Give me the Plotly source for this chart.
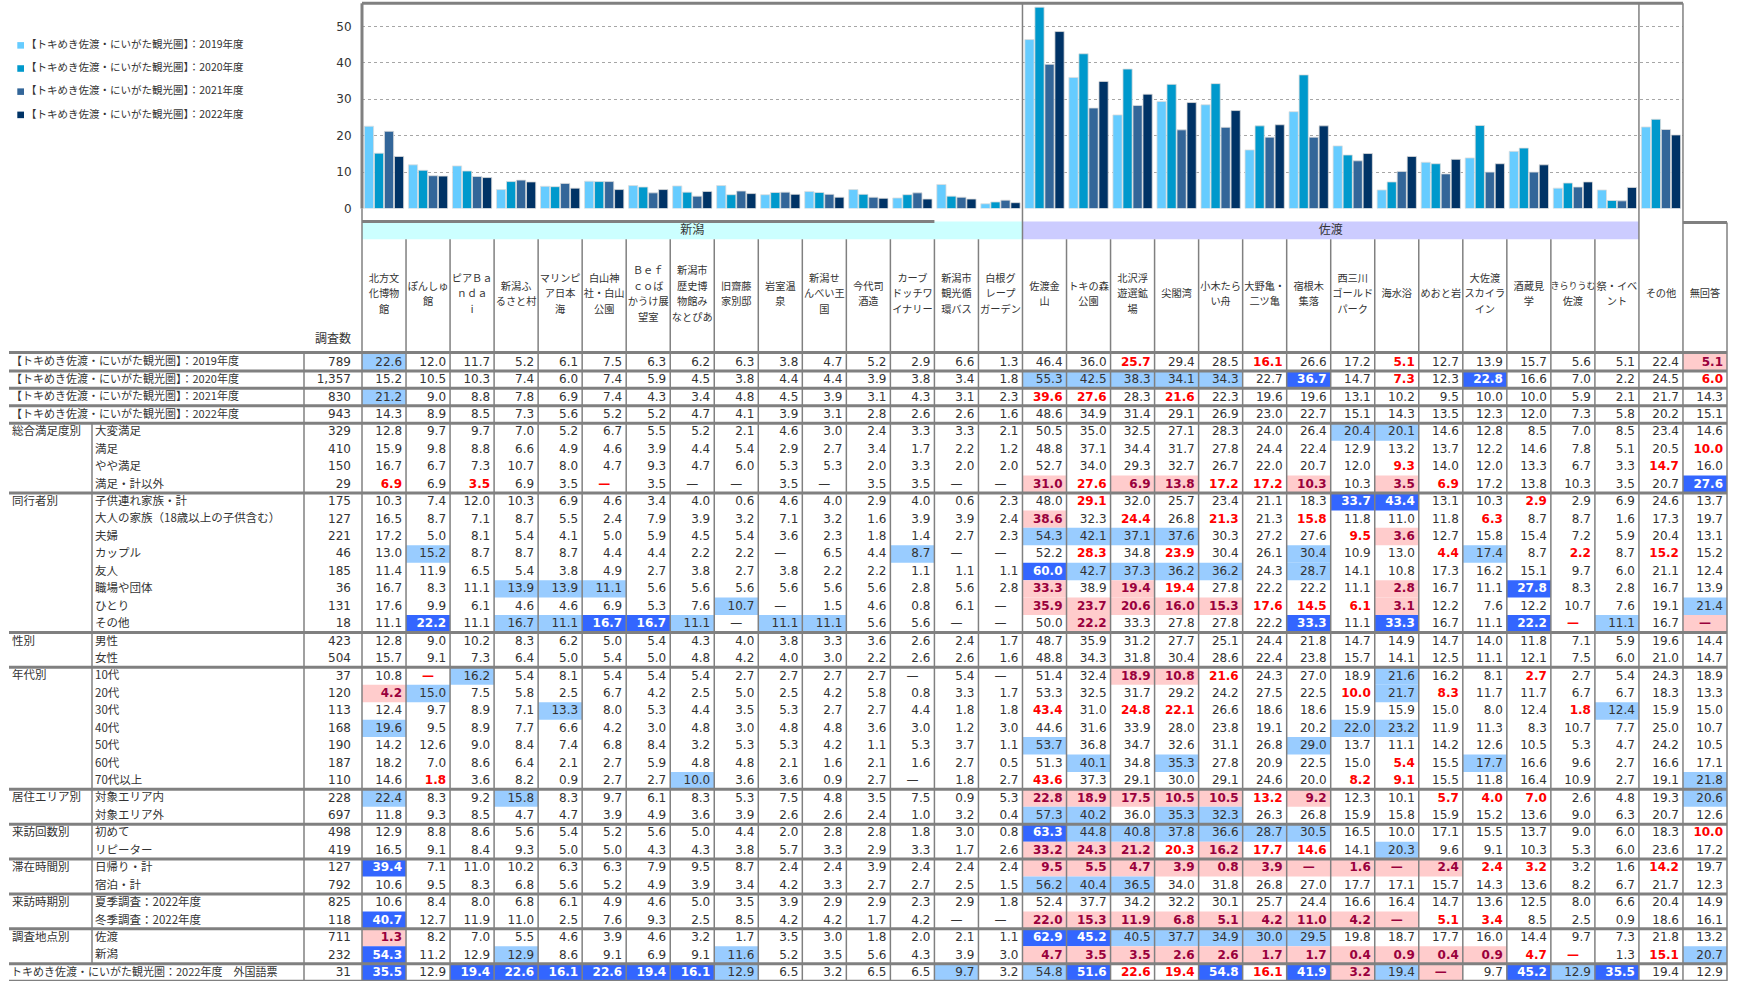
import plotly.graph_objects as go

W, H = 1738, 988

# ---------------- data ----------------
columns = ["北方文/化博物/館", "ぽんしゅ/館", "ピアＢａ/ｎｄａ/ｉ", "新潟ふ/るさと村", "マリンピ/ア日本/海",
           "白山神/社・白山/公園", "Ｂｅｆ/ｃｏば/かうけ展/望室", "新潟市/歴史博/物館み/なとぴあ", "旧齋藤/家別邸",
           "岩室温/泉", "新潟せ/んべい王/国", "今代司/酒造", "カーブ/ドッチワ/イナリー", "新潟市/観光循/環バス",
           "白根グ/レープ/ガーデン",
           "佐渡金/山", "トキの森/公園", "北沢浮/遊選鉱/場", "尖閣湾", "小木たら/い舟", "大野亀・/二ツ亀",
           "宿根木/集落", "西三川/ゴールド/パーク", "海水浴", "めおと岩", "大佐渡/スカイラ/イン", "酒蔵見/学",
           "きらりうむ/佐渡", "祭・イベ/ント", "その他", "無回答"]
bar_count = 30  # 無回答 has no bar
area_names = ["新潟", "佐渡"]
area_cols = [(0, 15), (15, 29)]
area_colors = ["#CCFFFF", "#CCCCFF"]

series_names = ["【トキめき佐渡・にいがた観光圏】：2019年度", "【トキめき佐渡・にいがた観光圏】：2020年度",
                "【トキめき佐渡・にいがた観光圏】：2021年度", "【トキめき佐渡・にいがた観光圏】：2022年度"]
series_colors = ["#66CCFF", "#0099CC", "#336699", "#003366"]
n_header = "調査数"

X = None  # "—"

year_n = [789, 1357, 830, 943]
year_vals = [
    [22.6, 12.0, 11.7, 5.2, 6.1, 7.5, 6.3, 6.2, 6.3, 3.8, 4.7, 5.2, 2.9, 6.6, 1.3,
     46.4, 36.0, 25.7, 29.4, 28.5, 16.1, 26.6, 17.2, 5.1, 12.7, 13.9, 15.7, 5.6, 5.1, 22.4, 5.1],
    [15.2, 10.5, 10.3, 7.4, 6.0, 7.4, 5.9, 4.5, 3.8, 4.4, 4.4, 3.9, 3.8, 3.4, 1.8,
     55.3, 42.5, 38.3, 34.1, 34.3, 22.7, 36.7, 14.7, 7.3, 12.3, 22.8, 16.6, 7.0, 2.2, 24.5, 6.0],
    [21.2, 9.0, 8.8, 7.8, 6.9, 7.4, 4.3, 3.4, 4.8, 4.5, 3.9, 3.1, 4.3, 3.1, 2.3,
     39.6, 27.6, 28.3, 21.6, 22.3, 19.6, 19.6, 13.1, 10.2, 9.5, 10.0, 10.0, 5.9, 2.1, 21.7, 14.3],
    [14.3, 8.9, 8.5, 7.3, 5.6, 5.2, 5.2, 4.7, 4.1, 3.9, 3.1, 2.8, 2.6, 2.6, 1.6,
     48.6, 34.9, 31.4, 29.1, 26.9, 23.0, 22.7, 15.1, 14.3, 13.5, 12.3, 12.0, 7.3, 5.8, 20.2, 15.1],
]
year_style = ["b.............. ..r..r..r..... .p",
              "............... bbbbb.B.r.B... .r",
              "b.............. rr.r.......... ..",
              "............... .............. .."]

sat_group = "総合満足度別"
sat_labels = ["大変満足", "満足", "やや満足", "満足・計以外"]
sat_n = [329, 410, 150, 29]
sat_vals = [
    [12.8, 9.7, 9.7, 7.0, 5.2, 6.7, 5.5, 5.2, 2.1, 4.6, 3.0, 2.4, 3.3, 3.3, 2.1,
     50.5, 35.0, 32.5, 27.1, 28.3, 24.0, 26.4, 20.4, 20.1, 14.6, 12.8, 8.5, 7.0, 8.5, 23.4, 14.6],
    [15.9, 9.8, 8.8, 6.6, 4.9, 4.6, 3.9, 4.4, 5.4, 2.9, 2.7, 3.4, 1.7, 2.2, 1.2,
     48.8, 37.1, 34.4, 31.7, 27.8, 24.4, 22.4, 12.9, 13.2, 13.7, 12.2, 14.6, 7.8, 5.1, 20.5, 10.0],
    [16.7, 6.7, 7.3, 10.7, 8.0, 4.7, 9.3, 4.7, 6.0, 5.3, 5.3, 2.0, 3.3, 2.0, 2.0,
     52.7, 34.0, 29.3, 32.7, 26.7, 22.0, 20.7, 12.0, 9.3, 14.0, 12.0, 13.3, 6.7, 3.3, 14.7, 16.0],
    [6.9, 6.9, 3.5, 6.9, 3.5, X, 3.5, X, X, 3.5, X, 3.5, 3.5, X, X,
     31.0, 27.6, 6.9, 13.8, 17.2, 17.2, 10.3, 10.3, 3.5, 6.9, 17.2, 13.8, 10.3, 3.5, 20.7, 27.6],
]
sat_style = ["............... .......bb..... ..",
             "............... .............. .r",
             "............... ........r..... r.",
             "r.r..r......... prpprrp.pr.... .B"]

com_group = "同行者別"
com_labels = ["子供連れ家族・計", "大人の家族（18歳以上の子供含む）", "夫婦", "カップル", "友人", "職場や団体", "ひとり", "その他"]
com_n = [175, 127, 221, 46, 185, 36, 131, 18]
com_vals = [
    [10.3, 7.4, 12.0, 10.3, 6.9, 4.6, 3.4, 4.0, 0.6, 4.6, 4.0, 2.9, 4.0, 0.6, 2.3,
     48.0, 29.1, 32.0, 25.7, 23.4, 21.1, 18.3, 33.7, 43.4, 13.1, 10.3, 2.9, 2.9, 6.9, 24.6, 13.7],
    [16.5, 8.7, 7.1, 8.7, 5.5, 2.4, 7.9, 3.9, 3.2, 7.1, 3.2, 1.6, 3.9, 3.9, 2.4,
     38.6, 32.3, 24.4, 26.8, 21.3, 21.3, 15.8, 11.8, 11.0, 11.8, 6.3, 8.7, 8.7, 1.6, 17.3, 19.7],
    [17.2, 5.0, 8.1, 5.4, 4.1, 5.0, 5.9, 4.5, 5.4, 3.6, 2.3, 1.8, 1.4, 2.7, 2.3,
     54.3, 42.1, 37.1, 37.6, 30.3, 27.2, 27.6, 9.5, 3.6, 12.7, 15.8, 15.4, 7.2, 5.9, 20.4, 13.1],
    [13.0, 15.2, 8.7, 8.7, 8.7, 4.4, 4.4, 2.2, 2.2, X, 6.5, 4.4, 8.7, X, X,
     52.2, 28.3, 34.8, 23.9, 30.4, 26.1, 30.4, 10.9, 13.0, 4.4, 17.4, 8.7, 2.2, 8.7, 15.2, 15.2],
    [11.4, 11.9, 6.5, 5.4, 3.8, 4.9, 2.7, 3.8, 2.7, 3.8, 2.2, 2.2, 1.1, 1.1, 1.1,
     60.0, 42.7, 37.3, 36.2, 36.2, 24.3, 28.7, 14.1, 10.8, 17.3, 16.2, 15.1, 9.7, 6.0, 21.1, 12.4],
    [16.7, 8.3, 11.1, 13.9, 13.9, 11.1, 5.6, 5.6, 5.6, 5.6, 5.6, 5.6, 2.8, 5.6, 2.8,
     33.3, 38.9, 19.4, 19.4, 27.8, 22.2, 22.2, 11.1, 2.8, 16.7, 11.1, 27.8, 8.3, 2.8, 16.7, 13.9],
    [17.6, 9.9, 6.1, 4.6, 4.6, 6.9, 5.3, 7.6, 10.7, X, 1.5, 4.6, 0.8, 6.1, X,
     35.9, 23.7, 20.6, 16.0, 15.3, 17.6, 14.5, 6.1, 3.1, 12.2, 7.6, 12.2, 10.7, 7.6, 19.1, 21.4],
    [11.1, 22.2, 11.1, 16.7, 11.1, 16.7, 16.7, 11.1, X, 11.1, 11.1, 5.6, 5.6, X, X,
     50.0, 22.2, 33.3, 27.8, 27.8, 22.2, 33.3, 11.1, 33.3, 16.7, 11.1, 22.2, X, 11.1, 16.7, X],
]
com_style = ["............... .r.....BB..r.. ..",
             "............... p.r.r.r...r... ..",
             "............... bbbb...rp..... ..",
             ".b..........b.. .r.r..b..rb.r. r.",
             "............... Bbbbb.b....... ..",
             "...bbb......... p.pr....p..B.. ..",
             "........b...... ppppprrrp..... .b",
             ".B.bbBBb.bb.... .p....B.B..Brb .p"]

sex_group = "性別"
sex_labels = ["男性", "女性"]
sex_n = [423, 504]
sex_vals = [
    [12.8, 9.0, 10.2, 8.3, 6.2, 5.0, 5.4, 4.3, 4.0, 3.8, 3.3, 3.6, 2.6, 2.4, 1.7,
     48.7, 35.9, 31.2, 27.7, 25.1, 24.4, 21.8, 14.7, 14.9, 14.7, 14.0, 11.8, 7.1, 5.9, 19.6, 14.4],
    [15.7, 9.1, 7.3, 6.4, 5.0, 5.4, 5.0, 4.8, 4.2, 4.0, 3.0, 2.2, 2.6, 2.6, 1.6,
     48.8, 34.3, 31.8, 30.4, 28.6, 22.4, 23.8, 15.7, 14.1, 12.5, 11.1, 12.1, 7.5, 6.0, 21.0, 14.7],
]
sex_style = ["............... .............. ..",
             "............... .............. .."]

age_group = "年代別"
age_labels = ["10代", "20代", "30代", "40代", "50代", "60代", "70代以上"]
age_n = [37, 120, 113, 168, 190, 187, 110]
age_vals = [
    [10.8, X, 16.2, 5.4, 8.1, 5.4, 5.4, 5.4, 2.7, 2.7, 2.7, 2.7, X, 5.4, X,
     51.4, 32.4, 18.9, 10.8, 21.6, 24.3, 27.0, 18.9, 21.6, 16.2, 8.1, 2.7, 2.7, 5.4, 24.3, 18.9],
    [4.2, 15.0, 7.5, 5.8, 2.5, 6.7, 4.2, 2.5, 5.0, 2.5, 4.2, 5.8, 0.8, 3.3, 1.7,
     53.3, 32.5, 31.7, 29.2, 24.2, 27.5, 22.5, 10.0, 21.7, 8.3, 11.7, 11.7, 6.7, 6.7, 18.3, 13.3],
    [12.4, 9.7, 8.9, 7.1, 13.3, 8.0, 5.3, 4.4, 3.5, 5.3, 2.7, 2.7, 4.4, 1.8, 1.8,
     43.4, 31.0, 24.8, 22.1, 26.6, 18.6, 18.6, 15.9, 15.9, 15.0, 8.0, 12.4, 1.8, 12.4, 15.9, 15.0],
    [19.6, 9.5, 8.9, 7.7, 6.6, 4.2, 3.0, 4.8, 3.0, 4.8, 4.8, 3.6, 3.0, 1.2, 3.0,
     44.6, 31.6, 33.9, 28.0, 23.8, 19.1, 20.2, 22.0, 23.2, 11.9, 11.3, 8.3, 10.7, 7.7, 25.0, 10.7],
    [14.2, 12.6, 9.0, 8.4, 7.4, 6.8, 8.4, 3.2, 5.3, 5.3, 4.2, 1.1, 5.3, 3.7, 1.1,
     53.7, 36.8, 34.7, 32.6, 31.1, 26.8, 29.0, 13.7, 11.1, 14.2, 12.6, 10.5, 5.3, 4.7, 24.2, 10.5],
    [18.2, 7.0, 8.6, 6.4, 2.1, 2.7, 5.9, 4.8, 4.8, 2.1, 1.6, 2.1, 1.6, 2.7, 0.5,
     51.3, 40.1, 34.8, 35.3, 27.8, 20.9, 22.5, 15.0, 5.4, 15.5, 17.7, 16.6, 9.6, 2.7, 16.6, 17.1],
    [14.6, 1.8, 3.6, 8.2, 0.9, 2.7, 2.7, 10.0, 3.6, 3.6, 0.9, 2.7, X, 1.8, 2.7,
     43.6, 37.3, 29.1, 30.0, 29.1, 24.6, 20.0, 8.2, 9.1, 15.5, 11.8, 16.4, 10.9, 2.7, 19.1, 21.8],
]
age_style = [".rb............ ..ppr...b..r.. ..",
             "pb............. .......rbr.... ..",
             "....b.......... r.rr........rb ..",
             "b.............. .......bb..... ..",
             "............... b.....b....... ..",
             "............... .b.b....r.b... ..",
             ".r.....b....... r......rr..... .b"]

res_group = "居住エリア別"
res_labels = ["対象エリア内", "対象エリア外"]
res_n = [228, 697]
res_vals = [
    [22.4, 8.3, 9.2, 15.8, 8.3, 9.7, 6.1, 8.3, 5.3, 7.5, 4.8, 3.5, 7.5, 0.9, 5.3,
     22.8, 18.9, 17.5, 10.5, 10.5, 13.2, 9.2, 12.3, 10.1, 5.7, 4.0, 7.0, 2.6, 4.8, 19.3, 20.6],
    [11.8, 9.3, 8.5, 4.7, 4.7, 3.9, 4.9, 3.6, 3.9, 2.6, 2.6, 2.4, 1.0, 3.2, 0.4,
     57.3, 40.2, 36.0, 35.3, 32.3, 26.3, 26.8, 15.9, 15.8, 15.9, 15.2, 13.6, 9.0, 6.3, 20.7, 12.6],
]
res_style = ["b..b........... ppppprp..rrr.. .b",
             "............... bb.bb......... .."]

vis_group = "来訪回数別"
vis_labels = ["初めて", "リピーター"]
vis_n = [498, 419]
vis_vals = [
    [12.9, 8.8, 8.6, 5.6, 5.4, 5.2, 5.6, 5.0, 4.4, 2.0, 2.8, 2.8, 1.8, 3.0, 0.8,
     63.3, 44.8, 40.8, 37.8, 36.6, 28.7, 30.5, 16.5, 10.0, 17.1, 15.5, 13.7, 9.0, 6.0, 18.3, 10.0],
    [16.5, 9.1, 8.4, 9.3, 5.0, 5.0, 4.3, 4.3, 3.8, 5.7, 3.3, 2.9, 3.3, 1.7, 2.6,
     33.2, 24.3, 21.2, 20.3, 16.2, 17.7, 14.6, 14.1, 20.3, 9.6, 9.1, 10.3, 5.3, 6.0, 23.6, 17.2],
]
vis_style = ["............... Bbbbbbb....... .r",
             "............... ppprprr.b..... .."]

stay_group = "滞在時間別"
stay_labels = ["日帰り・計", "宿泊・計"]
stay_n = [127, 792]
stay_vals = [
    [39.4, 7.1, 11.0, 10.2, 6.3, 6.3, 7.9, 9.5, 8.7, 2.4, 2.4, 3.9, 2.4, 2.4, 2.4,
     9.5, 5.5, 4.7, 3.9, 0.8, 3.9, X, 1.6, X, 2.4, 2.4, 3.2, 3.2, 1.6, 14.2, 19.7],
    [10.6, 9.5, 8.3, 6.8, 5.6, 5.2, 4.9, 3.9, 3.4, 4.2, 3.3, 2.7, 2.7, 2.5, 1.5,
     56.2, 40.4, 36.5, 34.0, 31.8, 26.8, 27.0, 17.7, 17.1, 15.7, 14.3, 13.6, 8.2, 6.7, 21.7, 12.3],
]
stay_style = ["B.............. pppppppppprr.. r.",
              "............... bbb........... .."]

sea_group = "来訪時期別"
sea_labels = ["夏季調査：2022年度", "冬季調査：2022年度"]
sea_n = [825, 118]
sea_vals = [
    [10.6, 8.4, 8.0, 6.8, 6.1, 4.9, 4.6, 5.0, 3.5, 3.9, 2.9, 2.9, 2.3, 2.9, 1.8,
     52.4, 37.7, 34.2, 32.2, 30.1, 25.7, 24.4, 16.6, 16.4, 14.7, 13.6, 12.5, 8.0, 6.6, 20.4, 14.9],
    [40.7, 12.7, 11.9, 11.0, 2.5, 7.6, 9.3, 2.5, 8.5, 4.2, 4.2, 1.7, 4.2, X, X,
     22.0, 15.3, 11.9, 6.8, 5.1, 4.2, 11.0, 4.2, X, 5.1, 3.4, 8.5, 2.5, 0.9, 18.6, 16.1],
]
sea_style = ["............... .............. ..",
             "B.............. ppppppppprr... .."]

loc_group = "調査地点別"
loc_labels = ["佐渡", "新潟"]
loc_n = [711, 232]
loc_vals = [
    [1.3, 8.2, 7.0, 5.5, 4.6, 3.9, 4.6, 3.2, 1.7, 3.5, 3.0, 1.8, 2.0, 2.1, 1.1,
     62.9, 45.2, 40.5, 37.7, 34.9, 30.0, 29.5, 19.8, 18.7, 17.7, 16.0, 14.4, 9.7, 7.3, 21.8, 13.2],
    [54.3, 11.2, 12.9, 12.9, 8.6, 9.1, 6.9, 9.1, 11.6, 5.2, 3.5, 5.6, 4.3, 3.9, 3.0,
     4.7, 3.5, 3.5, 2.6, 2.6, 1.7, 1.7, 0.4, 0.9, 0.4, 0.9, 4.7, X, 1.3, 15.1, 20.7],
]
loc_style = ["p.............. BBbbbbb....... ..",
             "B..b....b...... ppppppppppprr. rb"]

for_labels = ["トキめき佐渡・にいがた観光圏：2022年度　外国語票"]
for_n = [31]
for_vals = [
    [35.5, 12.9, 19.4, 22.6, 16.1, 22.6, 19.4, 16.1, 12.9, 6.5, 3.2, 6.5, 6.5, 9.7, 3.2,
     54.8, 51.6, 22.6, 19.4, 54.8, 16.1, 41.9, 3.2, 19.4, X, 9.7, 45.2, 12.9, 35.5, 19.4, 12.9],
]
for_style = ["B.BBBBBBb....b. bBrrBrBpbp.BbB .."]

# sections: (group label or None, labels, n, values, styles)
sections = [(None, series_names, year_n, year_vals, year_style),
            (sat_group, sat_labels, sat_n, sat_vals, sat_style),
            (com_group, com_labels, com_n, com_vals, com_style),
            (sex_group, sex_labels, sex_n, sex_vals, sex_style),
            (age_group, age_labels, age_n, age_vals, age_style),
            (res_group, res_labels, res_n, res_vals, res_style),
            (vis_group, vis_labels, vis_n, vis_vals, vis_style),
            (stay_group, stay_labels, stay_n, stay_vals, stay_style),
            (sea_group, sea_labels, sea_n, sea_vals, sea_style),
            (loc_group, loc_labels, loc_n, loc_vals, loc_style),
            (None, for_labels, for_n, for_vals, for_style)]

# ---------------- geometry (pixels) ----------------
COL0, COLN = 362.0, 1727.0
NCOL = len(columns)
CW = (COLN - COL0) / NCOL
T0, RH = 356.0, 17.56
PLOT_TOP, PLOT_BOT = 3.3, 210.0
GRID = "#808080"
TXT = "#333333"
NUMFONT = "DejaVu Sans"
JPFONT = "Noto Sans CJK JP"


def cl(i):
    return COL0 + i * CW


def rt(r):
    return T0 + r * RH


STY = {'.': (TXT, False, None), 'b': (TXT, False, "#99CCFF"), 'B': ("#FFFFFF", True, "#3366FF"),
       'r': ("#FF0000", True, None), 'p': ("#99003C", True, "#FFCCCC")}

fig = go.Figure()

# ---------------- bars ----------------
for name, vals, col in zip(series_names, year_vals, series_colors):
    fig.add_trace(go.Bar(x=list(range(bar_count)), y=vals[:bar_count], name=name,
                         marker=dict(color=col, line=dict(width=0.8, color="#DDDDDD")),
                         showlegend=False, hoverinfo="skip", xaxis="x", yaxis="y"))

shapes = []


def line(x0, y0, x1, y1, w=1.5, c=GRID):
    shapes.append(dict(type="line", xref="x2", yref="y2", x0=x0, y0=y0, x1=x1, y1=y1,
                       line=dict(color=c, width=w), layer="above"))


def rect(x0, y0, x1, y1, fill):
    shapes.append(dict(type="rect", xref="x2", yref="y2", x0=x0, y0=y0, x1=x1, y1=y1,
                       fillcolor=fill, line=dict(width=0), layer="below"))


texts = {k: dict(x=[], y=[], t=[], p=[]) for k in STY}
jp = dict(x=[], y=[], t=[], p=[], s=[])
num_n = dict(x=[], y=[], t=[])

r = 0
hlines = [0]
for group, labels, ns, vals, styles in sections:
    start = r
    for i, (lab, n, v, st) in enumerate(zip(labels, ns, vals, styles)):
        st = st.replace(" ", "")
        yc = rt(r) + RH / 2 + 0.5
        if group is None:
            jp['x'].append(11); jp['y'].append(yc); jp['t'].append(lab); jp['p'].append("middle right"); jp['s'].append(11)
        else:
            if i == 0:
                jp['x'].append(12); jp['y'].append(yc); jp['t'].append(group); jp['p'].append("middle right"); jp['s'].append(11.5)
            jp['x'].append(95); jp['y'].append(yc); jp['t'].append(lab); jp['p'].append("middle right"); jp['s'].append(11.5)
        num_n['x'].append(351); num_n['y'].append(yc); num_n['t'].append(f"{n:,}")
        for c in range(NCOL):
            val, s = v[c], st[c]
            color, bold, bg = STY[s]
            if bg:
                rect(cl(c), rt(r), cl(c + 1), rt(r + 1), bg)
            d = texts[s]
            if val is None:
                d['x'].append((cl(c) + cl(c + 1)) / 2); d['p'].append("middle center"); txt = "—"
            else:
                d['x'].append(cl(c + 1) - 4); d['p'].append("middle left"); txt = f"{val:.1f}"
            d['y'].append(yc)
            d['t'].append(f"<b>{txt}</b>" if bold else txt)
        r += 1
        if group is None:
            hlines.append(r)
    if group is not None:
        hlines.append(r)
        line(92, rt(start), 92, rt(r))
NROW = r

# horizontal table lines
for hr in sorted(set(hlines)):
    if hr < NROW + 1:
        yy = rt(hr) - (1 if hr == 0 else 0)
        line(9, yy, COLN, yy, w=3)
# vertical table lines
line(304, rt(0), 304, H)
for k in range(NCOL + 1):
    if k == 0:
        y0 = PLOT_BOT
    elif k in (15, 29, 30):
        y0 = PLOT_TOP
    elif k == 31:
        y0 = 224
    else:
        y0 = 241
    line(cl(k), y0, cl(k), H)
# plot frame pieces
line(COL0, PLOT_TOP, cl(30), PLOT_TOP, w=3)
line(COL0, PLOT_TOP, COL0, PLOT_BOT, w=3)
line(COL0, 223, cl(13), 223, w=3)
line(cl(30), 224, cl(31), 224, w=3)

# area bands
for nm, (a, b), colr in zip(area_names, area_cols, area_colors):
    rect(cl(a), 223, cl(b), 241, colr)
    jp['x'].append((cl(a) + cl(b)) / 2); jp['y'].append(232.5); jp['t'].append(nm); jp['p'].append("middle center"); jp['s'].append(12)

# column headers
for c, name in enumerate(columns):
    parts = name.split("/")
    m = len(parts)
    for j, ptxt in enumerate(parts):
        jp['x'].append((cl(c) + cl(c + 1)) / 2)
        jp['y'].append(297 + (j - (m - 1) / 2) * 15.5)
        jp['t'].append(ptxt)
        jp['p'].append("middle center")
        jp['s'].append(9 if len(ptxt) >= 5 else 10.2)

jp['x'].append(351); jp['y'].append(342); jp['t'].append(n_header); jp['p'].append("middle left"); jp['s'].append(12)

# legend
leg_y = [45.7, 69.0, 92.3, 115.7]
for nm, colr, yy in zip(series_names, series_colors, leg_y):
    rect(17.3, yy - 3.3, 24, yy + 3.3, colr)
    jp['x'].append(26); jp['y'].append(yy); jp['t'].append(nm); jp['p'].append("middle right"); jp['s'].append(10.5)

# text traces
for k, d in texts.items():
    color, bold, bg = STY[k]
    if not d['x']:
        continue
    fig.add_trace(go.Scatter(x=d['x'], y=d['y'], text=d['t'], mode="text", textposition=d['p'],
                             textfont=dict(family=NUMFONT, size=12, color=color),
                             xaxis="x2", yaxis="y2", hoverinfo="skip", showlegend=False, cliponaxis=False))
fig.add_trace(go.Scatter(x=num_n['x'], y=num_n['y'], text=num_n['t'], mode="text", textposition="middle left",
                         textfont=dict(family=NUMFONT, size=12, color=TXT),
                         xaxis="x2", yaxis="y2", hoverinfo="skip", showlegend=False, cliponaxis=False))
fig.add_trace(go.Scatter(x=jp['x'], y=jp['y'], text=jp['t'], mode="text", textposition=jp['p'],
                         textfont=dict(family=JPFONT, size=jp['s'], color=TXT),
                         xaxis="x2", yaxis="y2", hoverinfo="skip", showlegend=False, cliponaxis=False))

fig.update_layout(
    width=W, height=H, margin=dict(l=0, r=0, t=0, b=0, pad=0),
    paper_bgcolor="white", plot_bgcolor="rgba(0,0,0,0)",
    barmode="group", bargap=0.09, bargroupgap=0.08,
    showlegend=False,
    xaxis=dict(domain=[COL0 / W, cl(30) / W], range=[-0.5, bar_count - 0.5], showticklabels=False,
               showgrid=False, zeroline=False, showline=False, ticks="", fixedrange=True),
    yaxis=dict(domain=[1 - PLOT_BOT / H, 1 - PLOT_TOP / H], range=[0, (PLOT_BOT - PLOT_TOP) / 3.667],
               tickvals=[0, 10, 20, 30, 40, 50], showgrid=True, gridcolor="#A6A6A6", griddash="dot",
               gridwidth=1, zeroline=False, showline=False, ticks="outside", ticklen=7,
               tickcolor="rgba(0,0,0,0)", tickfont=dict(family=NUMFONT, size=12, color=TXT), fixedrange=True),
    xaxis2=dict(domain=[0, 1], range=[0, W], visible=False, anchor="y2", fixedrange=True),
    yaxis2=dict(domain=[0, 1], range=[H, 0], visible=False, anchor="x2", fixedrange=True),
    shapes=shapes,
)

fig.write_html("out.html", config={"displayModeBar": False},
               post_script="document.body.style.margin='0px';")
